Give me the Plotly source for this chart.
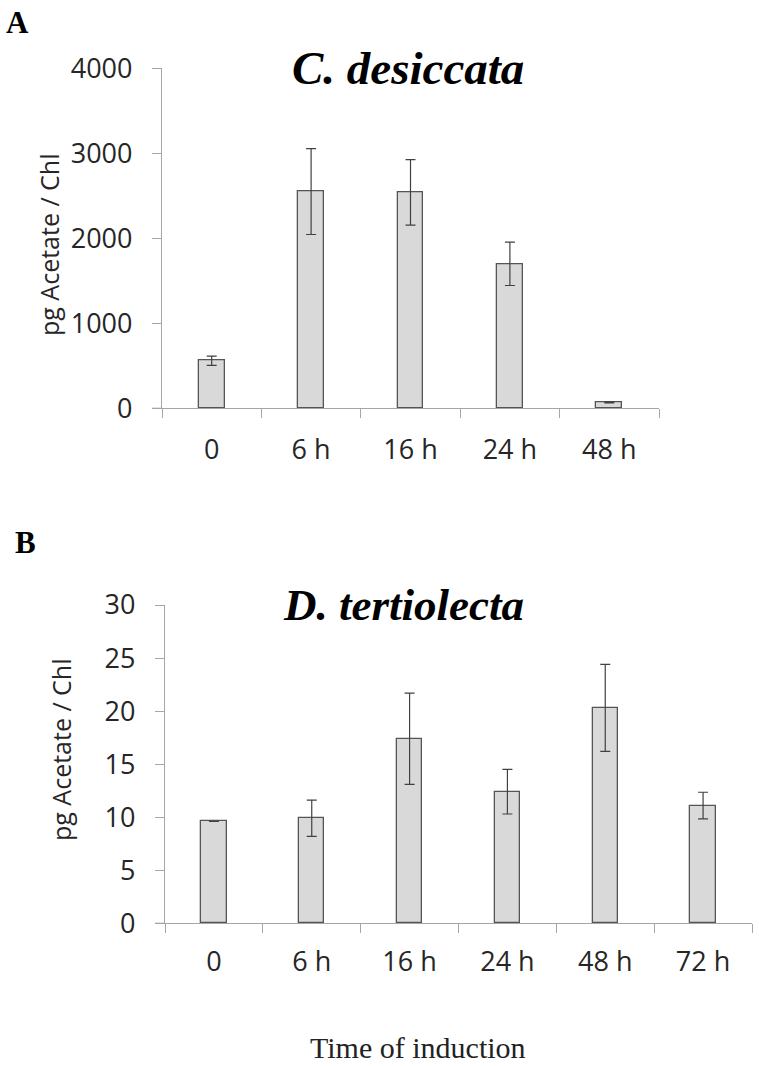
import plotly.graph_objects as go

# ---- data ----
cats_a = ["0", "6 h", "16 h", "24 h", "48 h"]
vals_a = [560, 2550, 2540, 1700, 70]
err_a = [55, 505, 385, 255, 6]

cats_b = ["0", "6 h", "16 h", "24 h", "48 h", "72 h"]
vals_b = [9.6, 9.9, 17.4, 12.4, 20.3, 11.1]
err_b = [None, 1.7, 4.3, 2.1, 4.1, 1.25]

title_a = "C. desiccata"
title_b = "D. tertiolecta"
ytitle = "pg Acetate / Chl"
xtitle = "Time of induction"

W, H = 759, 1066
BAR_FILL = "#d9d9d9"
BAR_LINE = "#555555"
ERR_COL = "#404040"
AX_COL = "#a6a6a6"
TXT = "#262626"
SANS = "Open Sans, Liberation Sans, sans-serif"
SERIF = "Liberation Serif, Times New Roman, serif"

def px_x(x):
    return x / W

def px_y(y):
    return 1 - y / H

fig = go.Figure()
fig.add_trace(go.Bar(
    x=cats_a, y=vals_a, width=0.26,
    marker=dict(color=BAR_FILL, line=dict(color=BAR_LINE, width=1.3)),
    error_y=dict(type="data", array=err_a, color=ERR_COL, thickness=1.2, width=5),
    xaxis="x", yaxis="y", showlegend=False,
))
fig.add_trace(go.Bar(
    x=cats_b, y=vals_b, width=0.26,
    marker=dict(color=BAR_FILL, line=dict(color=BAR_LINE, width=1.3)),
    error_y=dict(type="data", array=err_b, color=ERR_COL, thickness=1.2, width=5),
    xaxis="x2", yaxis="y2", showlegend=False,
))

xcommon = dict(type="category", showline=True, linecolor=AX_COL, linewidth=1.2,
               ticks="outside", ticklen=9, tickcolor=AX_COL, tickwidth=1.2,
               tickson="boundaries", showgrid=False, zeroline=False, automargin=False,
               tickfont=dict(family=SANS, size=27, color=TXT))
ycommon = dict(showline=True, linecolor=AX_COL, linewidth=1.2,
               ticks="outside", ticklen=9, tickcolor=AX_COL, tickwidth=1.2,
               showgrid=False, zeroline=False, automargin=False,
               tickfont=dict(family=SANS, size=27, color=TXT), ticklabelstandoff=14)

fig.update_layout(
    width=W, height=H,
    margin=dict(l=0, r=0, t=0, b=0, pad=0),
    paper_bgcolor="white", plot_bgcolor="white",
    bargap=0,
    xaxis=dict(domain=[px_x(162), px_x(659)], anchor="y", range=[-0.5, 4.5],
               ticklabelstandoff=17, **xcommon),
    yaxis=dict(domain=[px_y(408.3), px_y(68.3)], anchor="x", range=[0, 4000],
               tickvals=[0, 1000, 2000, 3000, 4000], **ycommon),
    xaxis2=dict(domain=[px_x(165), px_x(752)], anchor="y2", range=[-0.5, 5.5],
                ticklabelstandoff=14, **xcommon),
    yaxis2=dict(domain=[px_y(923.3), px_y(605)], anchor="x2", range=[0, 30],
                tickvals=[0, 5, 10, 15, 20, 25, 30], **ycommon),
)

# short extension of the category axis line to the left of the value axis (Excel style)
fig.add_shape(type="line", xref="paper", yref="paper",
              x0=px_x(152), x1=px_x(162), y0=px_y(408.3), y1=px_y(408.3),
              line=dict(color=AX_COL, width=1.2))
fig.add_shape(type="line", xref="paper", yref="paper",
              x0=px_x(155), x1=px_x(165), y0=px_y(923.3), y1=px_y(923.3),
              line=dict(color=AX_COL, width=1.2))

ann = [
    dict(text="<b>A</b>", x=px_x(4), y=px_y(3), xanchor="left", yanchor="top",
         font=dict(family=SERIF, size=31, color="black")),
    dict(text="<b>B</b>", x=px_x(13), y=px_y(523), xanchor="left", yanchor="top",
         font=dict(family=SERIF, size=31, color="black")),
    dict(text="<b><i>" + title_a + "</i></b>", x=px_x(408), y=px_y(68), xanchor="center", yanchor="middle",
         font=dict(family=SERIF, size=47, color="black")),
    dict(text="<b><i>" + title_b + "</i></b>", x=px_x(403), y=px_y(605), xanchor="center", yanchor="middle",
         font=dict(family=SERIF, size=45, color="black")),
    dict(text=ytitle, x=px_x(49), y=px_y(245), textangle=-90, xanchor="center", yanchor="middle",
         font=dict(family=SANS, size=25, color=TXT)),
    dict(text=ytitle, x=px_x(61), y=px_y(750), textangle=-90, xanchor="center", yanchor="middle",
         font=dict(family=SANS, size=25, color=TXT)),
    dict(text=xtitle, x=px_x(418), y=px_y(1047), xanchor="center", yanchor="middle",
         font=dict(family=SERIF, size=30, color="#222222")),
]
for a in ann:
    a.update(xref="paper", yref="paper", showarrow=False)
fig.update_layout(annotations=ann)

fig.write_html("out.html", config={"displayModeBar": False},
               post_script="document.body.style.margin='0';")
